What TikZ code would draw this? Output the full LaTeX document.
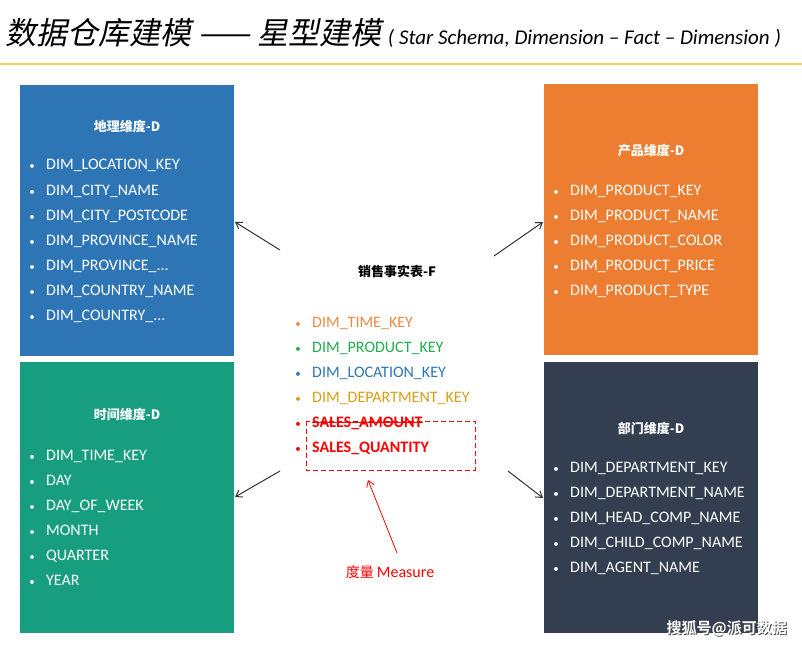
\documentclass[tikz,border=0pt]{standalone}
\usepackage{fontspec}
\setmainfont{Carlito}
\newfontfamily\cjk{Noto Sans CJK SC}
\newfontfamily\cjkb{Noto Sans CJK SC Bold}
\newfontfamily\cjkit[FakeSlant=0.2]{Noto Sans CJK SC}
\usetikzlibrary{arrows.meta}
\definecolor{cblue}{HTML}{2E75B6}
\definecolor{cteal}{HTML}{179E7E}
\definecolor{corange}{HTML}{ED7D31}
\definecolor{cdark}{HTML}{333F50}
\definecolor{fo}{HTML}{F08A40}
\definecolor{fg}{HTML}{1FAE4B}
\definecolor{fb}{HTML}{2E75B6}
\definecolor{fy}{HTML}{D4A017}
\definecolor{cline}{HTML}{FFCC66}
\newcommand{\dd}{.\kern0pt.\kern0pt.}
\tikzset{
 dimbox/.style={draw=none,minimum width=214pt,minimum height=271pt,inner sep=0},
 ttl/.style={font=\fontsize{13}{13}\selectfont\bfseries,anchor=center},
 itm/.style={font=\fontsize{16}{16}\selectfont,anchor=base west,inner sep=0},
 bul/.style={font=\fontsize{11}{11}\selectfont,anchor=base,inner sep=0},
 con/.style={draw=black!80,line width=1pt,-{Straight Barb[length=6pt,width=8pt]}},
 wmk/.style={anchor=east,inner sep=0,font=\cjkb\fontsize{15}{15}\selectfont}
}
\begin{document}
\begin{tikzpicture}[x=1pt,y=-1pt]
\useasboundingbox (0,0) rectangle (802,647);
\node[anchor=base west,inner sep=0] (title) at (5,45) {\cjkit\fontsize{31}{31}\selectfont 数据仓库建模 —— 星型建模\ \fontsize{21}{21}\selectfont\normalfont\itshape ( Star Schema, Dimension – Fact – Dimension )};
\draw[cline,line width=1.2pt] (0,64) -- (802,64);
\node[dimbox,fill=cblue,anchor=north west] (b1) at (20,85) {};
\node[dimbox,fill=cteal,anchor=north west] (b2) at (20,362) {};
\node[dimbox,fill=corange,anchor=north west] (b3) at (544,84) {};
\node[dimbox,fill=cdark,anchor=north west] (b4) at (544,362) {};
\node[ttl,white] (t1) at (127,127) {\cjk 地理维度-D};
\node[ttl,white] (t2) at (127,415) {\cjk 时间维度-D};
\node[ttl,white] (t3) at (651,151) {\cjk 产品维度-D};
\node[ttl,white] (t4) at (651,429) {\cjk 部门维度-D};
\foreach \t [count=\i from 0] in {{DIM\_LOCATION\_KEY},{DIM\_CITY\_NAME},{DIM\_CITY\_POSTCODE},{DIM\_PROVINCE\_NAME},{DIM\_PROVINCE\_\dd},{DIM\_COUNTRY\_NAME},{DIM\_COUNTRY\_\dd}}
 {\node[bul,white] (a\i) at (32,170+25*\i) {•}; \node[itm,white] (at\i) at (46,170+25*\i) {\t};}
\foreach \t [count=\i from 0] in {{DIM\_TIME\_KEY},DAY,{DAY\_OF\_WEEK},MONTH,QUARTER,YEAR}
 {\node[bul,white] (c\i) at (32,460+25*\i) {•}; \node[itm,white] (ct\i) at (46,460+25*\i) {\t};}
\foreach \t [count=\i from 0] in {{DIM\_PRODUCT\_KEY},{DIM\_PRODUCT\_NAME},{DIM\_PRODUCT\_COLOR},{DIM\_PRODUCT\_PRICE},{DIM\_PRODUCT\_TYPE}}
 {\node[bul,white] (d\i) at (556,195+25*\i) {•}; \node[itm,white] (dt\i) at (570,195+25*\i) {\t};}
\foreach \t [count=\i from 0] in {{DIM\_DEPARTMENT\_KEY},{DIM\_DEPARTMENT\_NAME},{DIM\_HEAD\_COMP\_NAME},{DIM\_CHILD\_COMP\_NAME},{DIM\_AGENT\_NAME}}
 {\node[bul,white] (e\i) at (556,472+25*\i) {•}; \node[itm,white] (et\i) at (570,472+25*\i) {\t};}
\node[ttl,black] (ft) at (397,271) {\cjk 销售事实表-F};
\foreach \t/\c [count=\i from 0] in {{DIM\_TIME\_KEY}/fo,{DIM\_PRODUCT\_KEY}/fg,{DIM\_LOCATION\_KEY}/fb,{DIM\_DEPARTMENT\_KEY}/fy}
 {\node[bul,\c] (f\i) at (298,327+25*\i) {•}; \node[itm,\c] (ff\i) at (312,327+25*\i) {\t};}
\node[bul,red] (g0) at (298,427) {•}; \node[itm,red,font=\fontsize{16}{16}\selectfont\bfseries] (s1) at (312,427) {SALES\_AMOUNT};
\draw[red,line width=0.9pt] (312,422) -- (s1.east|-312,422);
\node[bul,red] (g1) at (298,452) {•}; \node[itm,red,font=\fontsize{16}{16}\selectfont\bfseries] (s2) at (312,452) {SALES\_QUANTITY};
\draw[red,dash pattern=on 5pt off 3pt,line width=1pt] (306,421) rectangle (475,470);
\coordinate (mb) at (368,480);
\node[red,font=\cjk\fontsize{14}{14}\selectfont] (ml) at (390,572) {度量 {\fontspec{Carlito}\fontsize{16}{16}\selectfont Measure}};
\draw[red,line width=0.8pt,-{Straight Barb[length=6pt,width=8pt]}] (397,553) -- (mb);
\coordinate (p1) at (280,250); \coordinate (p2) at (494,256); \coordinate (p3) at (280,471); \coordinate (p4) at (508,471);
\draw[con] (p1) -- (235,222);
\draw[con] (p2) -- (543,222);
\draw[con] (p3) -- (235,497);
\draw[con] (p4) -- (543,498);
\node[wmk,black!70] (wms) at (788,629) {搜狐号@派可数据};
\node[wmk,white] (wm) at (787,628) {搜狐号@派可数据};
\end{tikzpicture}
\end{document}
